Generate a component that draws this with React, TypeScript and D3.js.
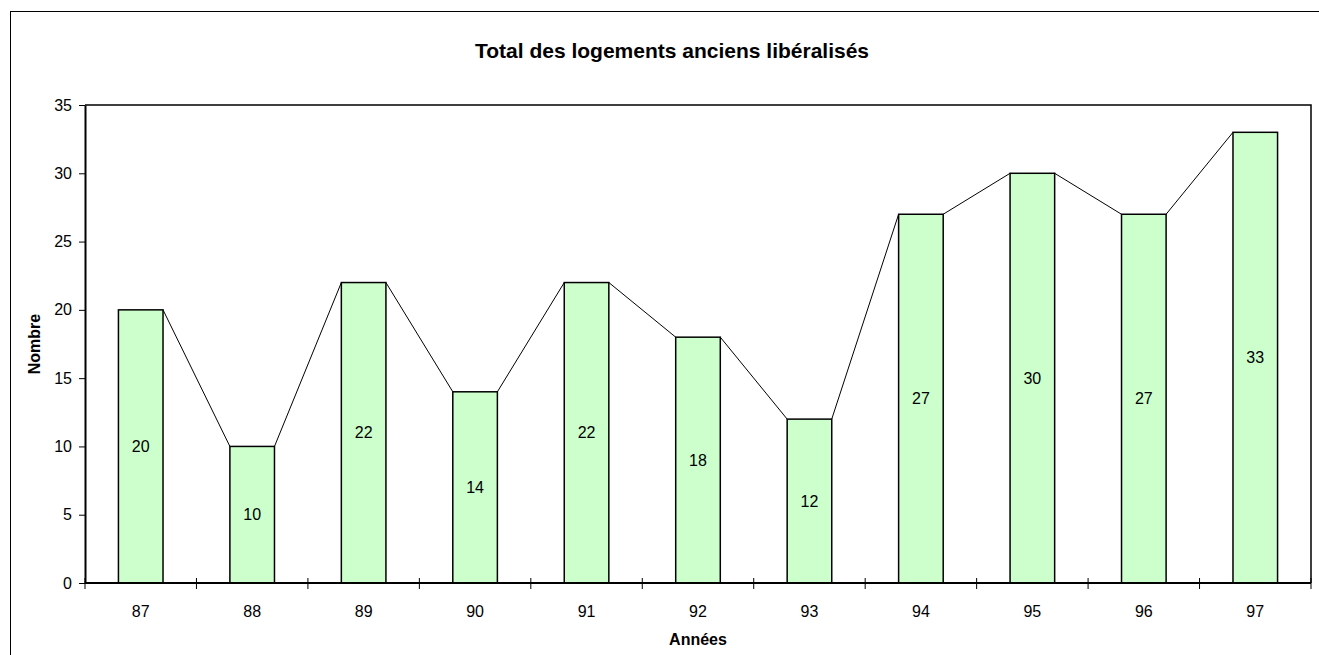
import { useEffect, useRef } from 'react'
import * as d3 from 'd3'

const YEARS = ['87', '88', '89', '90', '91', '92', '93', '94', '95', '96', '97']
const VALUES = [20, 10, 22, 14, 22, 18, 12, 27, 30, 27, 33]
const Y_TICKS = [0, 5, 10, 15, 20, 25, 30, 35]

const W = 1319
const H = 655
const PLOT = { left: 85, right: 1311, top: 105, bottom: 583 }
const FONT = '"Liberation Sans", Arial, sans-serif'

export default function App() {
  const svgRef = useRef<SVGSVGElement>(null)

  useEffect(() => {
    if (!svgRef.current) return
    const svg = d3.select(svgRef.current)
    svg.selectAll('*').remove()

    const x = d3.scaleBand<string>().domain(YEARS).range([PLOT.left, PLOT.right]).paddingInner(0.6).paddingOuter(0.3)
    const band = d3.scaleBand<string>().domain(YEARS).range([PLOT.left, PLOT.right])
    const y = d3.scaleLinear().domain([0, 35]).range([PLOT.bottom, PLOT.top])

    // outer chart frame
    svg.append('rect')
      .attr('x', 10.5).attr('y', 11.5).attr('width', W + 20).attr('height', H + 20)
      .attr('fill', 'white').attr('stroke', '#000').attr('stroke-width', 1)

    // plot area border (top / right)
    svg.append('path')
      .attr('d', `M${PLOT.left},${PLOT.top}H${PLOT.right}V${PLOT.bottom}`)
      .attr('fill', 'none').attr('stroke', '#000').attr('stroke-width', 1.5)

    svg.append('text')
      .attr('x', 672).attr('y', 58).attr('text-anchor', 'middle')
      .style('font-family', FONT).style('font-size', '21px').style('font-weight', 'bold')
      .text('Total des logements anciens libéralisés')

    // series lines between bar tops
    const lines = svg.append('g')
    VALUES.slice(0, -1).forEach((v, i) => {
      const a = YEARS[i]
      const b = YEARS[i + 1]
      lines.append('line')
        .attr('x1', x(a)! + x.bandwidth()).attr('y1', y(v))
        .attr('x2', x(b)!).attr('y2', y(VALUES[i + 1]))
        .attr('stroke', '#000').attr('stroke-width', 1)
    })

    // bars
    svg.append('g').selectAll('rect')
      .data(VALUES)
      .join('rect')
      .attr('x', (_, i) => x(YEARS[i])!)
      .attr('y', d => y(d))
      .attr('width', x.bandwidth())
      .attr('height', d => y(0) - y(d))
      .attr('fill', '#ccffcc').attr('stroke', '#000').attr('stroke-width', 1.5)

    // value labels
    svg.append('g').selectAll('text')
      .data(VALUES)
      .join('text')
      .attr('x', (_, i) => x(YEARS[i])! + x.bandwidth() / 2)
      .attr('y', d => (y(d) + y(0)) / 2)
      .attr('dy', '0.35em')
      .attr('text-anchor', 'middle')
      .style('font-family', FONT).style('font-size', '16px')
      .text(d => d)

    // y axis
    const yAxis = svg.append('g').attr('transform', `translate(${PLOT.left},0)`)
      .call(d3.axisLeft(y).tickValues(Y_TICKS).tickSize(6).tickPadding(7).tickSizeOuter(0))
    yAxis.select('.domain').attr('stroke', '#000').attr('stroke-width', 2)
    yAxis.selectAll('text').style('font-family', FONT).style('font-size', '16px').attr('fill', '#000')

    // x axis
    const xAxis = svg.append('g').attr('transform', `translate(0,${PLOT.bottom})`)
    xAxis.append('line')
      .attr('x1', PLOT.left).attr('x2', PLOT.right)
      .attr('stroke', '#000').attr('stroke-width', 2)
    const bounds = [...YEARS.map(c => band(c)!), PLOT.right]
    xAxis.selectAll('line.tick')
      .data(bounds)
      .join('line')
      .attr('class', 'tick')
      .attr('x1', d => d).attr('x2', d => d)
      .attr('y1', -5).attr('y2', 6)
      .attr('stroke', '#000').attr('stroke-width', 1)
    xAxis.selectAll('text')
      .data(YEARS)
      .join('text')
      .attr('x', d => band(d)! + band.bandwidth() / 2)
      .attr('y', 34)
      .attr('text-anchor', 'middle')
      .style('font-family', FONT).style('font-size', '16px')
      .text(d => d)

    svg.append('text')
      .attr('x', 698).attr('y', 645).attr('text-anchor', 'middle')
      .style('font-family', FONT).style('font-size', '16px').style('font-weight', 'bold')
      .text('Années')

    svg.append('text')
      .attr('transform', `translate(40,${(PLOT.top + PLOT.bottom) / 2}) rotate(-90)`)
      .attr('text-anchor', 'middle')
      .style('font-family', FONT).style('font-size', '16px').style('font-weight', 'bold')
      .text('Nombre')
  }, [])

  return (
    <svg ref={svgRef} width={W} height={H}
      style={{ position: 'absolute', left: 0, top: 0, background: 'white' }} />
  )
}
